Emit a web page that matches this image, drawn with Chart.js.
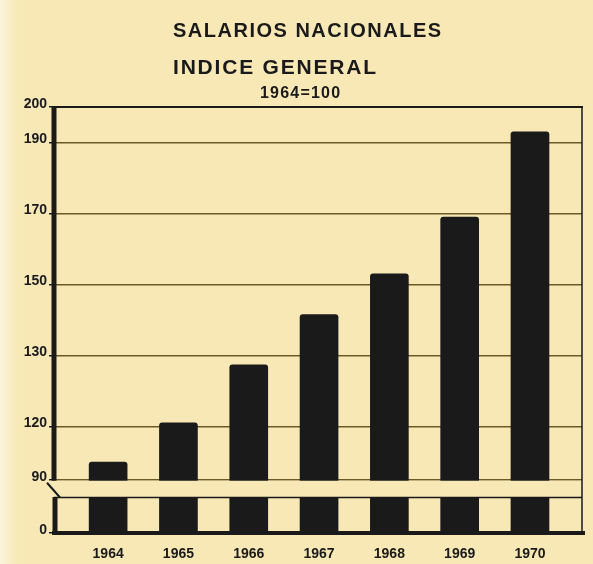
<!DOCTYPE html>
<html>
<head>
<meta charset="utf-8">
<script src="https://cdn.jsdelivr.net/npm/chart.js@4"></script>
<style>
  html, body { margin: 0; padding: 0; }
  body { background: #f7e8b6; }
  #wrap {
    width: 593px; height: 564px; position: relative;
    background: linear-gradient(to right, #fbf4dc 0px, #f7e8b6 18px);
  }
</style>
</head>
<body>
<div id="wrap"><canvas id="chart"></canvas></div>
<script>
// data (index, 1964 = 100)
var years = [1964, 1965, 1966, 1967, 1968, 1969, 1970];
var values = [100, 120.5, 128.7, 141.5, 153, 169, 193];

// the printed axis is not linear: labelled ticks sit on (almost) even steps
var tickValues = [0, 90, 120, 130, 150, 170, 190, 200];
var tickSlots = [0, 0.75, 1.5, 2.5, 3.5, 4.5, 5.5, 6];

var paper = '#f7e8b6';
var ink = '#1a1a1a';
var rule = '#6b5a26';

function toSlot(v) {
  for (var i = 1; i < tickValues.length; i++) {
    if (v <= tickValues[i]) {
      var f = (v - tickValues[i - 1]) / (tickValues[i] - tickValues[i - 1]);
      return tickSlots[i - 1] + f * (tickSlots[i] - tickSlots[i - 1]);
    }
  }
  return tickSlots[tickSlots.length - 1];
}
function fromSlot(s) {
  for (var i = 1; i < tickSlots.length; i++) {
    if (s <= tickSlots[i]) {
      var f = (s - tickSlots[i - 1]) / (tickSlots[i] - tickSlots[i - 1]);
      return tickValues[i - 1] + f * (tickValues[i] - tickValues[i - 1]);
    }
  }
  return tickValues[tickValues.length - 1];
}

class SlotScale extends Chart.LinearScale {
  buildTicks() {
    return tickValues.map(function (v) { return { value: v }; });
  }
  getPixelForValue(v) {
    if (v === null || v === undefined || isNaN(v)) return NaN;
    return this.getPixelForDecimal(toSlot(v) / 6);
  }
  getValueForPixel(p) {
    return fromSlot(this.getDecimalForPixel(p) * 6);
  }
}
SlotScale.id = 'slot';
SlotScale.defaults = Chart.LinearScale.defaults;
Chart.register(SlotScale);

// frame, axis break and titles
var decor = {
  id: 'decor',
  afterDraw: function (chart) {
    var ctx = chart.ctx, a = chart.chartArea, y = chart.scales.y;
    var y90 = y.getPixelForValue(90), y60 = y.getPixelForValue(60), y0 = y.getPixelForValue(0);
    ctx.save();
    // break band
    ctx.fillStyle = paper;
    ctx.fillRect(a.left - 4, y90 + 1, a.right - a.left + 6, y60 - y90 - 1.5);

    ctx.strokeStyle = ink;
    ctx.lineCap = 'butt';
    ctx.lineWidth = 2;
    ctx.beginPath(); ctx.moveTo(a.left - 2, a.top); ctx.lineTo(a.right + 1, a.top); ctx.stroke();
    ctx.lineWidth = 1.5;
    ctx.beginPath(); ctx.moveTo(a.right, a.top); ctx.lineTo(a.right, y0); ctx.stroke();
    ctx.lineWidth = 1.5;
    ctx.beginPath(); ctx.moveTo(a.left, y60); ctx.lineTo(a.right, y60); ctx.stroke();
    ctx.lineWidth = 4;
    ctx.beginPath(); ctx.moveTo(a.left - 2, y0); ctx.lineTo(a.right + 3, y0); ctx.stroke();
    ctx.lineWidth = 5;
    ctx.beginPath(); ctx.moveTo(a.left, a.top - 1); ctx.lineTo(a.left, y90 + 1); ctx.stroke();
    ctx.beginPath(); ctx.moveTo(a.left + 1, y60 - 0.5); ctx.lineTo(a.left + 1, y0 + 2); ctx.stroke();
    ctx.lineWidth = 2;
    ctx.beginPath(); ctx.moveTo(a.left - 7, y90 + 3); ctx.lineTo(a.left + 6, y60); ctx.stroke();

    // titles
    ctx.fillStyle = ink;
    ctx.textAlign = 'left';
    ctx.textBaseline = 'alphabetic';
    ctx.font = 'bold 20px "Liberation Sans", Arial, sans-serif';
    ctx.letterSpacing = '1.5px';
    ctx.fillText('SALARIOS NACIONALES', 173, 37);
    ctx.font = 'bold 21px "Liberation Sans", Arial, sans-serif';
    ctx.letterSpacing = '1.8px';
    ctx.fillText('INDICE GENERAL', 173, 74);
    ctx.font = 'bold 16px "Liberation Sans", Arial, sans-serif';
    ctx.letterSpacing = '1.2px';
    ctx.fillText('1964=100', 260, 98);
    ctx.restore();
  }
};

var points = years.map(function (yr, i) { return { x: yr, y: values[i] }; });

new Chart(document.getElementById('chart'), {
  type: 'bar',
  data: {
    datasets: [{
      label: 'Indice general',
      data: points,
      backgroundColor: ink,
      borderWidth: 0,
      borderRadius: 3,
      barThickness: 38
    }]
  },
  options: {
    responsive: true,
    maintainAspectRatio: false,
    animation: false,
    layout: { padding: { top: 107, right: 11, bottom: 0, left: 0 } },
    plugins: {
      legend: { display: false },
      tooltip: { enabled: false }
    },
    scales: {
      x: {
        type: 'linear',
        min: 1963.23,
        max: 1970.74,
        offset: false,
        afterBuildTicks: function (s) { s.ticks = years.map(function (v) { return { value: v }; }); },
        afterFit: function (s) { s.height = 31; },
        grid: { display: false, offset: false },
        border: { display: false },
        ticks: {
          padding: 5,
          color: ink,
          autoSkip: false,
          maxRotation: 0,
          font: { family: '"Liberation Sans", Arial, sans-serif', size: 14, weight: 'bold' },
          callback: function (v) { return String(v); }
        }
      },
      y: {
        type: 'slot',
        min: 0,
        max: 200,
        afterFit: function (s) { s.width = 54; },
        border: { display: false },
        grid: {
          color: function (c) {
            var v = c.tick ? c.tick.value : null;
            return (v === 0 || v === 200) ? 'rgba(0,0,0,0)' : rule;
          },
          lineWidth: 1.5,
          drawTicks: true,
          tickLength: 5,
          tickColor: ink,
          tickWidth: 1.5
        },
        ticks: {
          padding: 2,
          labelOffset: -3,
          autoSkip: false,
          color: ink,
          font: { family: '"Liberation Sans", Arial, sans-serif', size: 14, weight: 'bold' }
        }
      }
    }
  },
  plugins: [decor]
});
</script>
</body>
</html>
